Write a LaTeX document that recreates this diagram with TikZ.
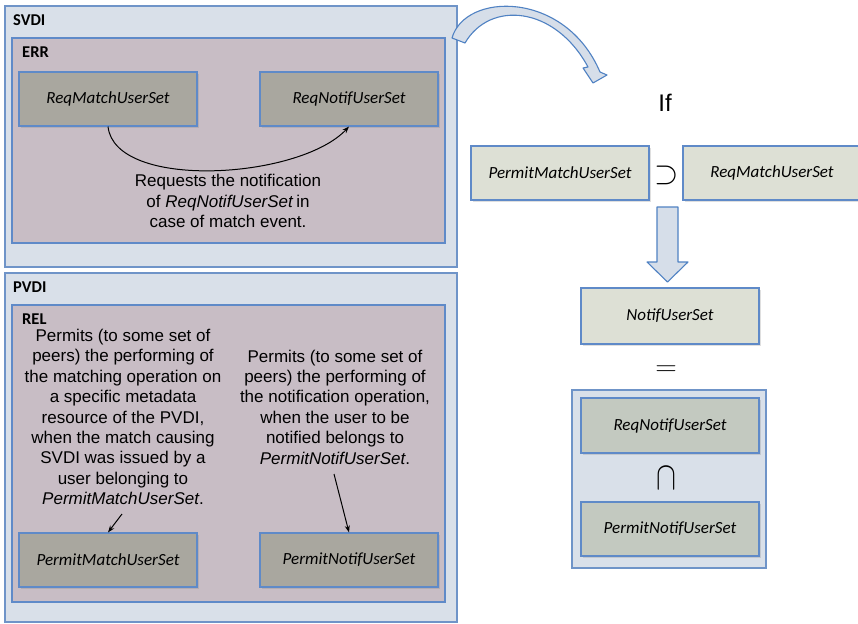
\documentclass[tikz,border=0pt]{standalone}
\usepackage{fontspec}
\setmainfont{Liberation Sans}
\newfontfamily\carl{Carlito}
\usetikzlibrary{arrows.meta,shadows}

\definecolor{domfill}{HTML}{D9E0E9}
\definecolor{domline}{HTML}{6F94C8}
\definecolor{rulefill}{HTML}{C8BDC5}
\definecolor{ruleline}{HTML}{5F8AC8}
\definecolor{setgrey}{HTML}{A9A79F}
\definecolor{setlight}{HTML}{DDE0D5}
\definecolor{setmid}{HTML}{C3C9C0}
\definecolor{bigarrow}{HTML}{D6DEE9}
\definecolor{bigarrowline}{HTML}{5082C3}

\tikzset{
  vdibox/.style={draw=domline, fill=domfill, line width=1.1pt, rectangle,
    inner sep=0pt},
  rulebox/.style={draw=ruleline, fill=rulefill, line width=1.1pt, rectangle,
    inner sep=0pt},
  setbox/.style={draw=ruleline, line width=1.1pt, rectangle, inner sep=0pt,
    minimum width=178pt, minimum height=54pt,
    font=\carl\itshape\fontsize{17}{20}\selectfont,
    drop shadow={shadow xshift=1.5pt, shadow yshift=-2pt, opacity=0.25}},
  headlbl/.style={font=\carl\bfseries\fontsize{16.5}{18}\selectfont,
    anchor=west, inner sep=0pt},
  notetext/.style={align=center, inner sep=0pt,
    font=\fontsize{17}{20.4}\selectfont},
  relsym/.style={inner sep=0pt, font=\fontsize{24}{24}\selectfont},
  linkarrow/.style={-{Stealth[length=7pt,width=5pt]}, line width=1pt, black},
  fatarrow/.style={fill=bigarrow, draw=bigarrowline, line width=1.1pt,
    line join=round}
}

\begin{document}
\begin{tikzpicture}[x=1pt, y=-1pt]
\useasboundingbox (0,0) rectangle (858,623);
\fill[white] (0,0) rectangle (858,623);

% ---- subscriber side: SVDI with its ERR rule ----
\node[vdibox, minimum width=452pt, minimum height=261pt] (svdi) at (231,136.5) {};
\node[headlbl] (svdilbl) at (13,20) {SVDI};
\node[rulebox, minimum width=433pt, minimum height=205pt] (err) at (228.5,140.5) {};
\node[headlbl] (errlbl) at (22,52) {ERR};
\node[setbox, fill=setgrey] (rmu) at (108,99) {ReqMatchUserSet};
\node[setbox, fill=setgrey] (rnu) at (349,99) {ReqNotifUserSet};
\draw[linkarrow] (rmu.south) .. controls +(7,64) and +(-50,53) .. (rnu.south);
\node[notetext] (errnote) at (228,201) {Requests the notification\\
  of \textit{ReqNotifUserSet}\,in\\ case of match event.};

% ---- publisher side: PVDI with its REL rule ----
\node[vdibox, minimum width=452pt, minimum height=349pt] (pvdi) at (231,447.5) {};
\node[headlbl] (pvdilbl) at (13,287) {PVDI};
\node[rulebox, minimum width=433pt, minimum height=297pt] (rel) at (228.5,453.5) {};
\node[headlbl] (rellbl) at (22,319) {REL};
\node[setbox, fill=setgrey] (pmu) at (108,560) {PermitMatchUserSet};
\node[setbox, fill=setgrey] (pnu) at (349,560) {PermitNotifUserSet};
\node[notetext] (matchnote) at (123,417) {Permits (to some set of\\
  peers) the performing of\\ the matching operation on\\
  a specific metadata\\ resource of the PVDI,\\
  when the match causing\\ SVDI was issued by a\\
  user belonging to\\ \textit{PermitMatchUserSet}.};
\node[notetext] (notifnote) at (335,407) {Permits (to some set of\\
  peers) the performing of\\ the notification operation,\\
  when the user to be\\ notified belongs to\\
  \textit{PermitNotifUserSet}.};
\coordinate (matchfrom) at (122,514);
\coordinate (notiffrom) at (334,474);
\draw[linkarrow] (matchfrom) -- (pmu.north);
\draw[linkarrow] (notiffrom) -- (pnu.north);

% ---- curved transfer arrow ----
\draw[fatarrow] (452,38) .. controls (465,-8) and (565,-10) .. (600,72)
  -- (607,75) -- (593,83) -- (583,68) -- (588,67)
  .. controls (555,6) and (490,0) .. (465,43) -- cycle;

% ---- resulting condition ----
\node[relsym] (iflbl) at (665,103) {If};
\node[setbox, fill=setlight] (pmu2) at (560,173) {PermitMatchUserSet};
\node[relsym] (sup) at (667,175) {\scalebox{1.25}[1.3]{$\supset$}};
\node[setbox, fill=setlight, minimum width=180pt] (rmu2) at (773,173) {\hspace*{-2pt}ReqMatchUserSet};

\draw[fatarrow] (657,207) -- (678,207) -- (678,262) -- (688,262)
  -- (667.5,282) -- (647,262) -- (657,262) -- cycle;

\node[setbox, fill=setlight, minimum height=56pt] (nus) at (670,316) {NotifUserSet};
\node[relsym] (eq) at (666,371) {\scalebox{1.2}[1.1]{$=$}};
\node[vdibox, minimum width=194pt, minimum height=178pt] (inter) at (669,479) {};
\node[setbox, fill=setmid, minimum height=55pt] (rnu2) at (670,425.5) {ReqNotifUserSet};
\node[relsym] (capsym) at (666,478) {\scalebox{1.2}[1.6]{$\cap$}};
\node[setbox, fill=setmid] (pnu2) at (670,529) {PermitNotifUserSet};
\end{tikzpicture}
\end{document}
